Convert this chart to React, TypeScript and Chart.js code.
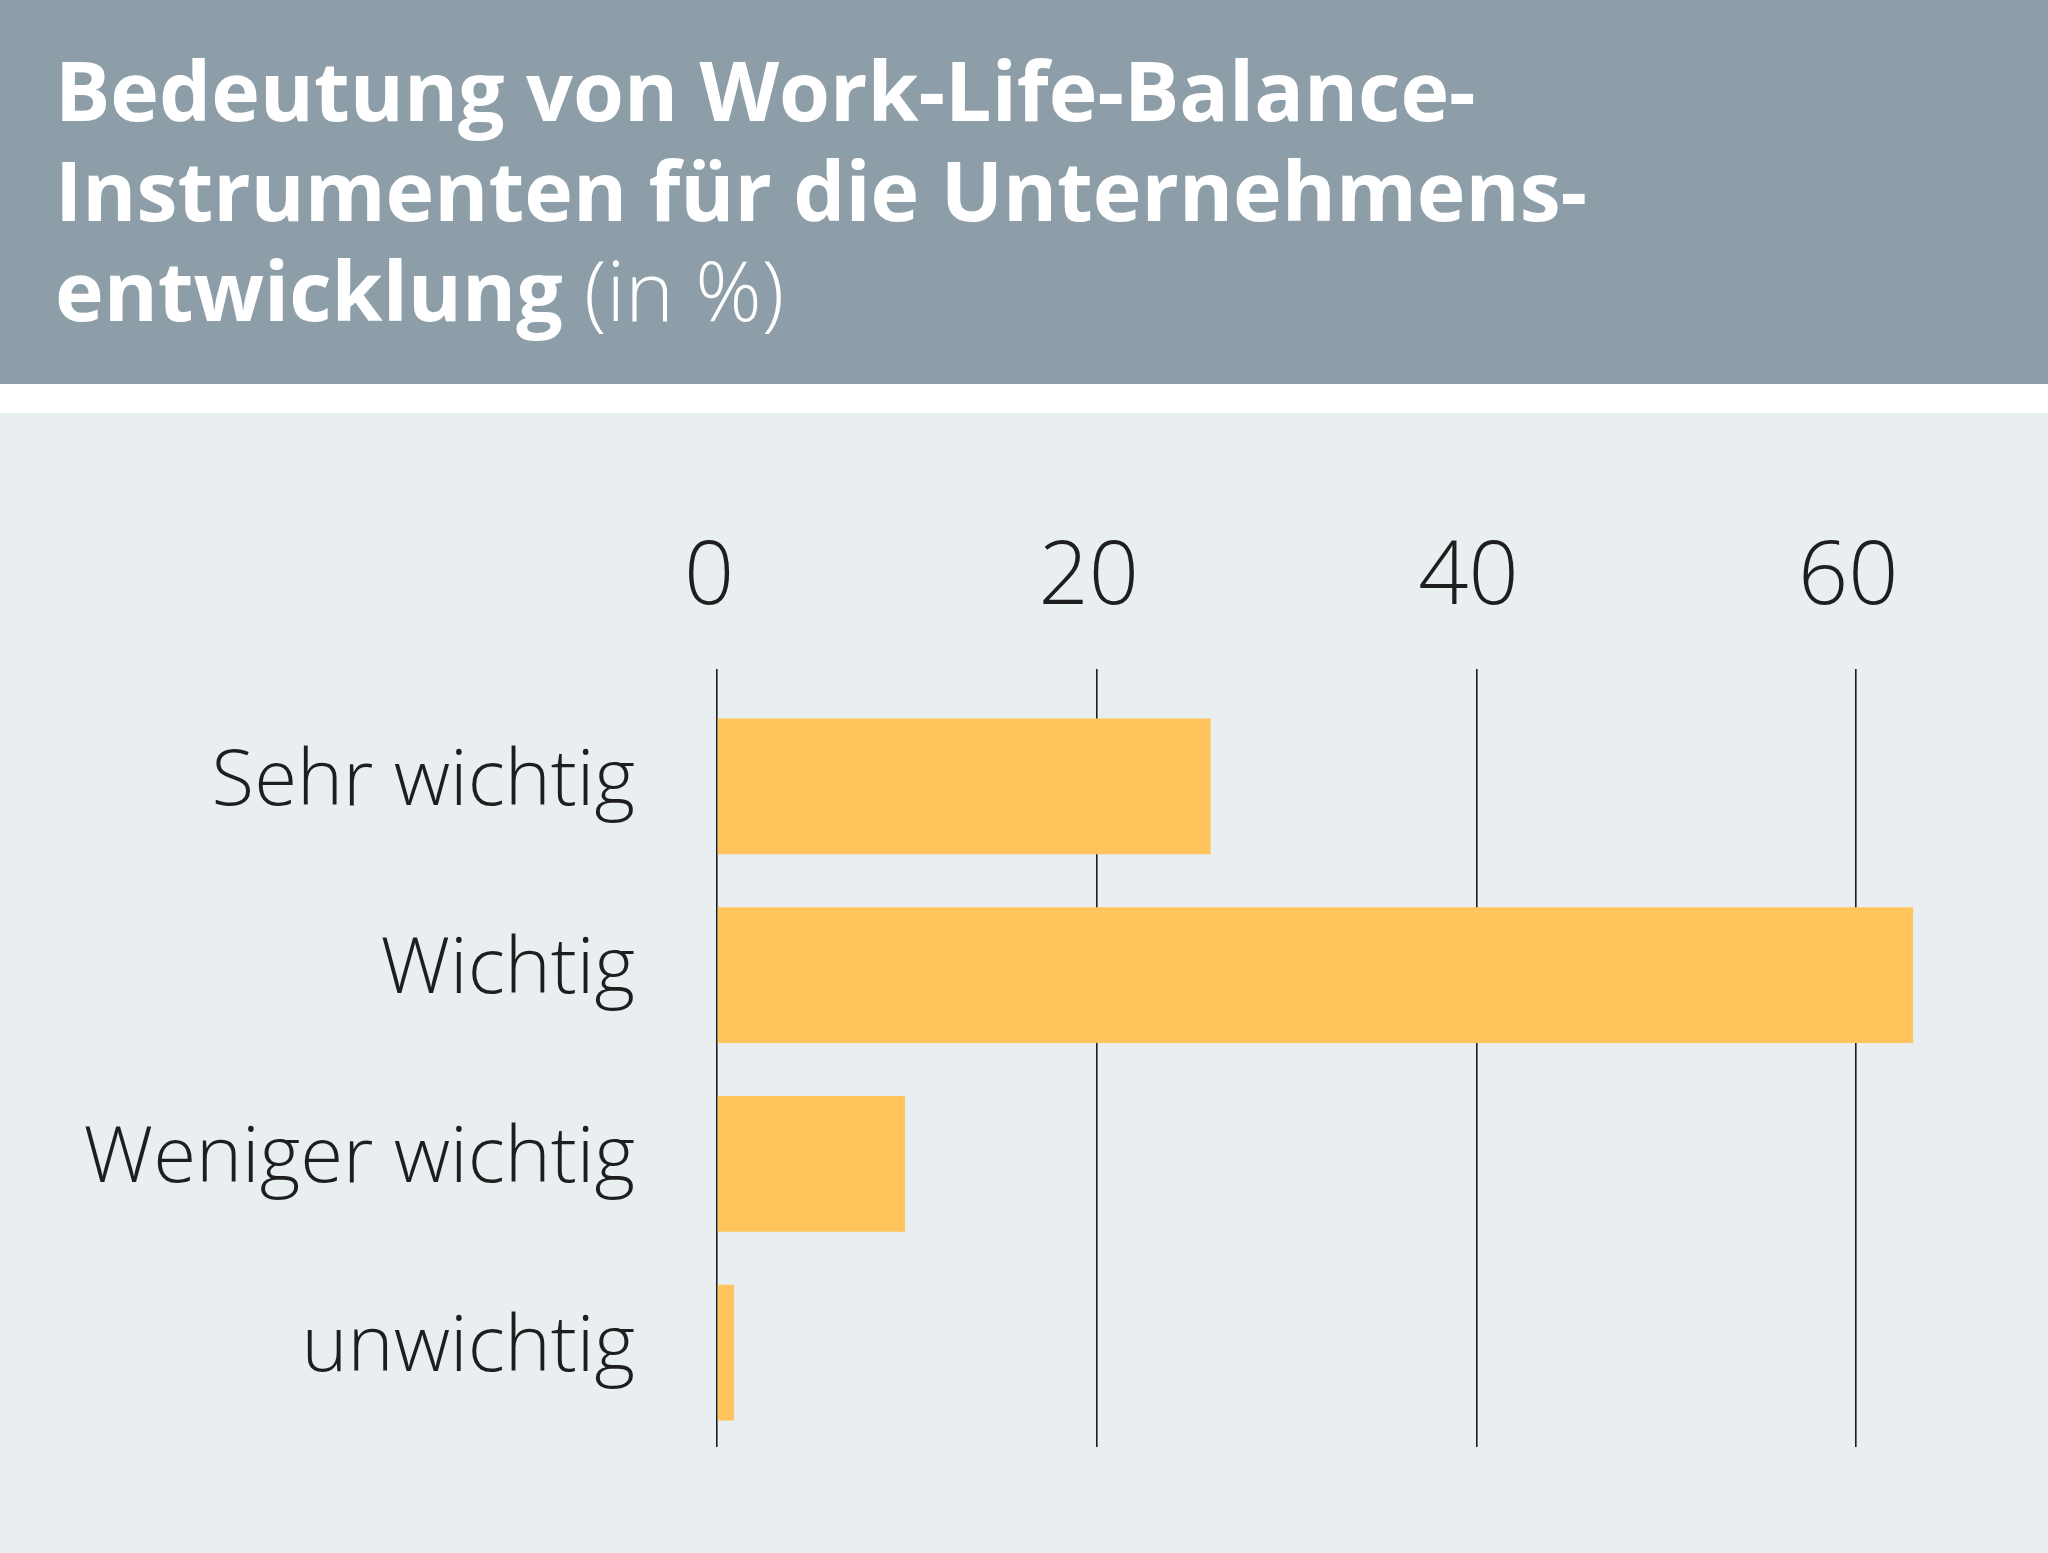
import React, { useEffect, useRef } from "react";
import { Chart, registerables } from "chart.js";

Chart.register(...registerables);

const categories = ["Sehr wichtig", "Wichtig", "Weniger wichtig", "unwichtig"];
const values = [26, 63, 9.9, 0.9];
const xTicks = [0, 20, 40, 60];
const titleBold = ["Bedeutung von Work-Life-Balance-", "Instrumenten für die Unternehmens-", "entwicklung"];
const titleLight = "(in %)";

const FONT = "'Open Sans', 'Noto Sans', sans-serif";

function BarChart() {
  const ref = useRef<HTMLCanvasElement | null>(null);
  useEffect(() => {
    if (!ref.current) return;
    const chart = new Chart(ref.current, {
      type: "bar",
      data: {
        labels: categories,
        datasets: [
          {
            data: values,
            backgroundColor: "#FFC45B",
            borderWidth: 0,
            barPercentage: 0.72,
            categoryPercentage: 1,
          },
        ],
      },
      options: {
        indexAxis: "y",
        animation: false,
        responsive: false,
        maintainAspectRatio: false,
        devicePixelRatio: 1,
        layout: { padding: { left: 0, right: 2, top: 0, bottom: 106 } },
        plugins: { legend: { display: false }, tooltip: { enabled: false } },
        scales: {
          x: {
            position: "top",
            min: 0,
            max: 70,
            afterBuildTicks: (scale: any) => {
              scale.ticks = xTicks.map((v) => ({ value: v }));
            },
            afterFit: (scale: any) => {
              scale.height = 279;
              scale.paddingLeft = 0;
              scale.paddingRight = 0;
            },
            ticks: {
              color: "#1e1e1e",
              font: { family: FONT, size: 88, weight: "300" as any },
              padding: 37,
              labelOffset: -8,
              maxRotation: 0,
            },
            grid: {
              color: "#1e1e1e",
              lineWidth: 1.6,
              tickLength: 23,
              drawOnChartArea: true,
              drawTicks: true,
            },
            border: { display: false },
          },
          y: {
            afterFit: (scale: any) => {
              scale.width = 717;
              scale.paddingTop = 0;
              scale.paddingBottom = 0;
            },
            ticks: {
              color: "#1e1e1e",
              font: { family: FONT, size: 78, weight: "300" as any },
              padding: 82,
              labelOffset: -4,
            },
            grid: { display: false, drawTicks: false },
            border: { display: false },
          },
        },
      },
    });
    return () => chart.destroy();
  }, []);
  return <canvas ref={ref} width={2048} height={1140} style={{ display: "block", width: 2048, height: 1140 }} />;
}

export default function App() {
  return (
    <div style={{ position: "absolute", left: 0, top: 0, width: 2048, height: 1553, background: "#ffffff", overflow: "hidden" }}>
      <div
        style={{
          height: 384,
          boxSizing: "border-box",
          background: "#8E9EA8",
          color: "#ffffff",
          fontFamily: FONT,
          fontSize: 82.4,
          lineHeight: "100px",
          fontWeight: 700,
          paddingTop: 39,
          paddingLeft: 55,
          whiteSpace: "nowrap",
        }}
      >
        <div>{titleBold[0]}</div>
        <div>{titleBold[1]}</div>
        <div>
          {titleBold[2]} <span style={{ fontWeight: 300 }}>{titleLight}</span>
        </div>
      </div>
      <div style={{ height: 29, background: "#ffffff" }} />
      <div style={{ height: 1140, background: "#E9EEF1" }}>
        <BarChart />
      </div>
    </div>
  );
}
